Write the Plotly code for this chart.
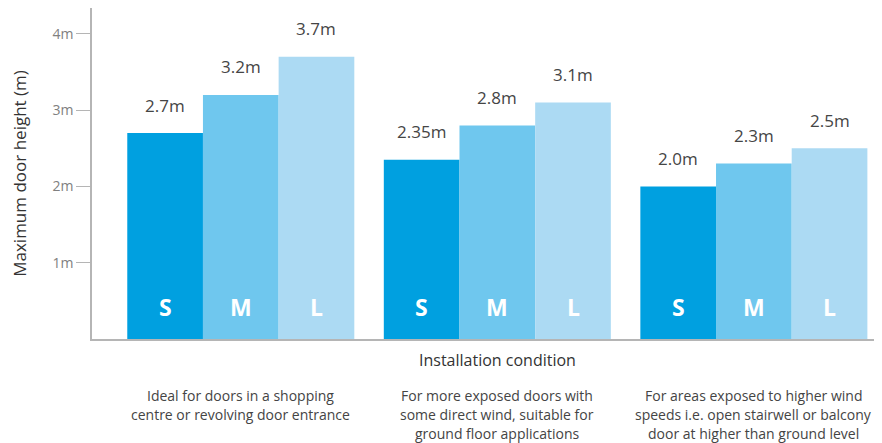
import plotly.graph_objects as go

# installation conditions (x categories)
conditions = [
    "Ideal for doors in a shopping<br>centre or revolving door entrance",
    "For more exposed doors with<br>some direct wind, suitable for<br>ground floor applications",
    "For areas exposed to higher wind<br>speeds i.e. open stairwell or balcony<br>door at higher than ground level",
]
sizes = ["S", "M", "L"]
height_s = [2.7, 2.35, 2.0]
height_m = [3.2, 2.8, 2.3]
height_l = [3.7, 3.1, 2.5]
label_s = ["2.7m", "2.35m", "2.0m"]
label_m = ["3.2m", "2.8m", "2.3m"]
label_l = ["3.7m", "3.1m", "2.5m"]
y_ticks = [1, 2, 3, 4]
y_tick_labels = ["1m", "2m", "3m", "4m"]

colors = ["#00a0e0", "#6fc7ee", "#acdaf3"]
FONT = "Open Sans"
# page body has an 8px margin, so the figure is a bit smaller than the window
W, H = 874, 435
M_L, M_R, M_T, M_B = 84, 5, 0, 104
X_RANGE = [-0.58, 2.48]
Y_RANGE = [0, 4.34]
BARGAP = 0.115

fig = go.Figure()
heights = [height_s, height_m, height_l]
labels = [label_s, label_m, label_l]
for size, vals, col in zip(sizes, heights, colors):
    fig.add_trace(go.Bar(x=conditions, y=vals, name=size, marker_color=col,
                         marker_line_width=0, showlegend=False, hoverinfo="skip"))

# pixel width of one bar, to place labels over each bar of a group
unit_px = (W - M_L - M_R) / (X_RANGE[1] - X_RANGE[0])
bar_px = unit_px * (1 - BARGAP) / len(sizes)

for i, (size, vals, labs) in enumerate(zip(sizes, heights, labels)):
    shift = (i - 1) * bar_px
    for cond, v, lab in zip(conditions, vals, labs):
        fig.add_annotation(x=cond, y=v, text=lab, showarrow=False, xshift=shift,
                           yshift=28, yanchor="middle",
                           font=dict(family=FONT, size=17, color="#454545"))
        fig.add_annotation(x=cond, y=0, text="<b>%s</b>" % size, showarrow=False,
                           xshift=shift, yshift=32, yanchor="middle",
                           font=dict(family=FONT, size=23, color="white"))

# condition descriptions, one line at a time for the wider line spacing
for cond in conditions:
    for j, line in enumerate(cond.split("<br>")):
        fig.add_annotation(x=cond, xref="x", yref="paper", y=0, yanchor="middle",
                           yshift=-56 - 19 * j, text=line, showarrow=False,
                           font=dict(family=FONT, size=14, color="#444444"))

fig.add_annotation(x=conditions[1], xref="x", yref="paper", y=0, yanchor="middle",
                   yshift=-21, text="Installation condition", showarrow=False,
                   font=dict(family=FONT, size=16, color="#333333"))

fig.update_layout(
    width=W, height=H,
    margin=dict(l=M_L, r=M_R, t=M_T, b=M_B),
    barmode="group", bargap=BARGAP, bargroupgap=0,
    plot_bgcolor="white", paper_bgcolor="white",
    font=dict(family=FONT),
    xaxis=dict(range=X_RANGE, showticklabels=False, ticks="", showgrid=False,
               showline=True, linecolor="#b5b5b5", linewidth=1.5, zeroline=False),
    yaxis=dict(range=Y_RANGE, tickvals=y_ticks, ticktext=y_tick_labels,
               ticks="outside", ticklen=14, tickcolor="#b5b5b5", tickwidth=1,
               showline=True, linecolor="#b5b5b5", linewidth=1.5,
               showgrid=False, zeroline=False, automargin=False,
               tickfont=dict(family=FONT, size=14, color="#808080"),
               title=dict(text="Maximum door height (m)", standoff=22,
                          font=dict(family=FONT, size=17, color="#333333"))),
)

fig.write_html("out.html")
